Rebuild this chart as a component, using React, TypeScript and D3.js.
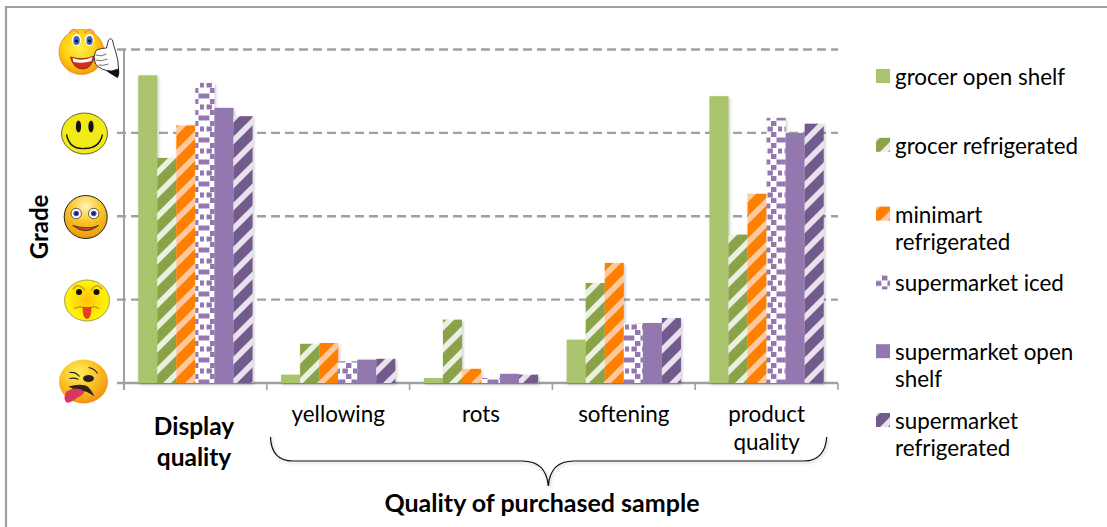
import * as React from 'react';
import * as d3 from 'd3';

// categories along the x axis, one label line per entry
const categories = ['display', 'yellowing', 'rots', 'softening', 'product'];
const categoryLines = [[], ['yellowing'], ['rots'], ['softening'], ['product', 'quality']];
const boldLines = ['Display', 'quality'];

const seriesNames = ['gOpen', 'gFridge', 'mFridge', 'sIced', 'sOpen', 'sFridge'];
const legendLines = [
    ['grocer open shelf'],
    ['grocer refrigerated'],
    ['minimart', 'refrigerated'],
    ['supermarket iced'],
    ['supermarket open', 'shelf'],
    ['supermarket', 'refrigerated'],
];

// grade, 1 = worst face, 5 = best face
const grocerOpenShelf = [4.69, 1.1, 1.06, 1.52, 4.44];
const grocerRefrigerated = [3.7, 1.47, 1.76, 2.2, 2.78];
const minimartRefrigerated = [4.09, 1.48, 1.17, 2.44, 3.27];
const supermarketIced = [4.6, 1.26, 1.06, 1.71, 4.18];
const supermarketOpenShelf = [4.3, 1.28, 1.11, 1.72, 4.0];
const supermarketRefrigerated = [4.2, 1.29, 1.1, 1.78, 4.11];
const seriesValues = [
    grocerOpenShelf,
    grocerRefrigerated,
    minimartRefrigerated,
    supermarketIced,
    supermarketOpenShelf,
    supermarketRefrigerated,
];
const seriesFills = ['#a9c46c', 'url(#hGreen)', 'url(#hOrange)', 'url(#hDots)', '#9278af', 'url(#hPurple)'];
const grades = [1, 2, 3, 4, 5];

const width = 1107;
const height = 527;
const gray = '#a0a0a0';
const font = 'Lato, "Open Sans", sans-serif';

const x = d3.scaleBand<string>().domain(categories).range([124, 838]);
const inner = d3.scaleBand<string>().domain(seriesNames).range([0, x.bandwidth()]).paddingOuter(0.75).paddingInner(0);
const y = d3.scaleLinear().domain([1, 5]).range([383, 49.5]);

const legendY = d3.scalePoint<number>().domain(d3.range(6)).range([69, 413]);

const Stripes = ({id, bg, fg}: {id: string; bg: string; fg: string}) => (
    <pattern id={id} patternUnits='userSpaceOnUse' width={22} height={22}>
        <rect width={22} height={22} fill={bg} />
        <path d='M-4,4 L4,-4 M-4,26 L26,-4 M18,26 L26,18' stroke={fg} strokeWidth={5.6} />
    </pattern>
);

// faces are drawn around their own centre, then hung on the grade scale
const FaceBest = () => (
    <g transform='translate(81.5,52)'>
        <circle r={22.5} fill='url(#fBest)' stroke='#f08a10' strokeWidth={0.8} />
        <path d='M-12,-19 Q-8,-26 -3,-19 M3,-19 Q8,-26 13,-19' fill='none' stroke='#f28c3c' strokeWidth={1.4} />
        <ellipse cx={-5} cy={-12} rx={4.6} ry={6} fill='#fff' />
        <ellipse cx={8} cy={-12} rx={4.6} ry={6} fill='#fff' />
        <ellipse cx={-5} cy={-11.5} rx={3.2} ry={4.6} fill='#3c63b5' />
        <ellipse cx={8} cy={-11.5} rx={3.2} ry={4.6} fill='#3c63b5' />
        <circle cx={-5} cy={-11} r={1.5} fill='#111' />
        <circle cx={8} cy={-11} r={1.5} fill='#111' />
        <path d='M-11,5 Q1,9 13,4 Q10,17 1,17 Q-8,17 -11,5 Z' fill='#d62b1f' stroke='#7a2a10' strokeWidth={0.9} />
        <path d='M-9,6 Q1,10 11,5 L10,9 Q1,12 -8,10 Z' fill='#fff' />
        <path d='M20,15 Q28,22 36,26 Q39,22 37,15 Q30,20 20,15 Z' fill='#111' />
        <path d='M25,-4 L27,-12 Q29,-15 31,-12 Q32,-6 34,-1 Q37,8 37,17 L30,19 Q20,19 14,12 Q11,4 15,-2 Q20,-4 25,-4 Z' fill='#fff' stroke='#222' strokeWidth={0.9} />
        <path d='M14,3 Q20,5 25,2 M14,8 Q20,10 26,7 M17,13 Q22,14 27,12' fill='none' stroke='#333' strokeWidth={0.7} />
    </g>
);

const FaceGood = () => (
    <g transform='translate(84.5,133.5)'>
        <ellipse rx={23} ry={20.5} fill='#f2ea17' stroke='#55552a' strokeWidth={0.9} />
        <ellipse cx={-6} cy={-7} rx={2.6} ry={6} fill='#111' />
        <ellipse cx={6.5} cy={-7} rx={2.6} ry={6} fill='#111' />
        <path d='M-18,1 Q-15,16 0,15 Q15,15 18,1' fill='none' stroke='#111' strokeWidth={1.3} />
    </g>
);

const FaceMiddle = () => (
    <g transform='translate(85.7,217)'>
        <circle r={21.5} fill='url(#fMid)' stroke='#222' strokeWidth={1} />
        <circle cx={-9.5} cy={-3.5} r={5.2} fill='#fff' stroke='#333' strokeWidth={0.8} />
        <circle cx={8} cy={-3.5} r={5.2} fill='#fff' stroke='#333' strokeWidth={0.8} />
        <circle cx={-9.5} cy={-3.5} r={2.8} fill='#3d4bb5' />
        <circle cx={8} cy={-3.5} r={2.8} fill='#3d4bb5' />
        <circle cx={-9.5} cy={-3.5} r={1.2} fill='#111' />
        <circle cx={8} cy={-3.5} r={1.2} fill='#111' />
        <path d='M-13,8.5 Q0,19 13,8.5 Q2,13 -13,8.5 Z' fill='#e03a1a' stroke='#332' strokeWidth={0.8} />
    </g>
);

const FaceSad = () => (
    <g transform='translate(87,300.5)'>
        <ellipse rx={22.5} ry={20.5} fill='url(#fSad)' stroke='#8c8c55' strokeWidth={0.8} />
        <path d='M-14,-11 Q-9,-19 -2,-10 M4,-10 Q10,-19 15,-11' fill='none' stroke='#cf9a3a' strokeWidth={1.6} />
        <circle cx={-8} cy={-8.5} r={3} fill='#111' />
        <circle cx={9.5} cy={-8.5} r={3} fill='#111' />
        <path d='M-13,8 Q-7,5 -3,7 M3,7 Q8,5 12,8' fill='none' stroke='#8a7a30' strokeWidth={0.9} />
        <path d='M-4,7 L4,7 Q4,18 0,18 Q-4,18 -4,7 Z' fill='#ef3b22' stroke='#a02a18' strokeWidth={0.5} />
    </g>
);

const FaceWorst = () => (
    <g transform='translate(83.5,381.5)'>
        <ellipse rx={24.5} ry={22} fill='url(#fWorst)' />
        <path d='M-14,-9 Q-8,-10 -4,-5 M-14,-3 Q-9,-4 -5,-2 M5,-14 Q11,-13 14,-8' fill='none' stroke='#222' strokeWidth={1.2} />
        <ellipse cx={5} cy={-3} rx={5.5} ry={3.5} fill='#222' />
        <path d='M-15,5 Q-5,2 2,4 Q6,5 11,15 Q3,9 -3,9 Q-8,9 -15,5 Z' fill='#2a2420' />
        <path d='M-17,10 Q-7,4 1,10 Q-1,14 -6,16 Q-13,22 -17,21 Q-21,17 -17,10 Z' fill='#d8365a' />
    </g>
);

const faces = [FaceWorst, FaceSad, FaceMiddle, FaceGood, FaceBest];

export default function App() {
    return (
        <svg width={width} height={height} style={{position: 'absolute', left: 0, top: 0, background: '#fff'}} fontFamily={font}>
            <defs>
                <Stripes id='hGreen' bg='#8aa34a' fg='#ebf0e0' />
                <Stripes id='hOrange' bg='#ff7f00' fg='#ffc99e' />
                <Stripes id='hPurple' bg='#735a8d' fg='#e8e2ee' />
                <pattern id='hDots' patternUnits='userSpaceOnUse' width={17} height={22}>
                    <rect width={17} height={22} fill='#fff' />
                    <g fill='#9477b0'>
                        <rect x={6} y={0} width={5.4} height={5} />
                        <rect x={0} y={5.5} width={5.4} height={5} />
                        <rect x={11.5} y={5.5} width={5.4} height={5} />
                        <rect x={6} y={11} width={5.4} height={5} />
                        <rect x={2.5} y={16.5} width={5.4} height={5} />
                        <rect x={13} y={16.5} width={4} height={5} />
                    </g>
                </pattern>
                <radialGradient id='fBest' cx='45%' cy='40%' r='60%'>
                    <stop offset='0' stopColor='#fff04a' />
                    <stop offset='0.6' stopColor='#fdd010' />
                    <stop offset='1' stopColor='#f49a12' />
                </radialGradient>
                <radialGradient id='fMid' cx='50%' cy='25%' r='75%'>
                    <stop offset='0' stopColor='#fff6c0' />
                    <stop offset='0.45' stopColor='#fcc82c' />
                    <stop offset='1' stopColor='#eb9a08' />
                </radialGradient>
                <radialGradient id='fSad' cx='50%' cy='50%' r='50%'>
                    <stop offset='0' stopColor='#ffc008' />
                    <stop offset='0.8' stopColor='#fff000' />
                    <stop offset='1' stopColor='#fff200' />
                </radialGradient>
                <radialGradient id='fWorst' cx='40%' cy='30%' r='75%'>
                    <stop offset='0' stopColor='#fff05a' />
                    <stop offset='0.6' stopColor='#fbb81e' />
                    <stop offset='1' stopColor='#f28a14' />
                </radialGradient>
                <filter id='soft' x='-20%' y='-20%' width='140%' height='140%'>
                    <feDropShadow dx={1} dy={1.5} stdDeviation={1.6} floodColor='#000' floodOpacity={0.25} />
                </filter>
            </defs>

            <path d={`M6,${height} V7 H${width}`} fill='none' stroke={gray} strokeWidth={2.2} />

            {/* grid */}
            {grades.map((g) => (
                <line key={g} x1={117} x2={838} y1={y(g)} y2={y(g)} stroke={gray} strokeWidth={2.4}
                    strokeDasharray={g === 1 ? undefined : '9 5'} />
            ))}
            <line x1={124} x2={124} y1={y(5)} y2={y(1) + 7} stroke={gray} strokeWidth={2} />
            {d3.range(categories.length + 1).map((i) => {
                const tx = i < categories.length ? (x(categories[i]) as number) : 838;
                return <line key={i} x1={tx} x2={tx} y1={y(1)} y2={y(1) + 7} stroke={gray} strokeWidth={1.6} />;
            })}

            {/* bars */}
            {categories.map((c, ci) => (
                <g key={c} filter='url(#soft)'>
                    {seriesNames.map((s, si) => (
                        <rect key={s}
                            x={(x(c) as number) + (inner(s) as number)}
                            width={inner.bandwidth()}
                            y={y(seriesValues[si][ci])}
                            height={y(1) - y(seriesValues[si][ci])}
                            fill={seriesFills[si]} />
                    ))}
                </g>
            ))}

            {/* faces on the grade axis */}
            {faces.map((Face, i) => <Face key={i} />)}

            {/* axis text */}
            <text transform='translate(48,227) rotate(-90)' textAnchor='middle' fontSize={24} fontWeight={700}>Grade</text>
            {boldLines.map((t, i) => (
                <text key={t} x={194} y={435 + i * 31} textAnchor='middle' fontSize={24.5} fontWeight={700}>{t}</text>
            ))}
            {categories.map((c, ci) => categoryLines[ci].map((t, i) => (
                <text key={t} x={(x(c) as number) + x.bandwidth() / 2} y={422 + i * 28} textAnchor='middle' fontSize={22.4}>{t}</text>
            )))}

            {/* brace under the purchased sample groups */}
            <path d='M270.5,437 C271,452 278,461 293,461 L522,461 C538,461 547,470 548.3,486 C549.5,470 558,461 574,461 L804,461 C818,461 826,452 826.7,437'
                fill='none' stroke='#111' strokeWidth={1.2} filter='url(#soft)' />
            <text x={542} y={512} textAnchor='middle' fontSize={25} fontWeight={700}>Quality of purchased sample</text>

            {/* legend */}
            {seriesNames.map((s, si) => {
                const ly = legendY(si) as number;
                return (
                    <g key={s} transform={`translate(876,${ly})`}>
                        <rect width={14} height={14} fill={seriesFills[si]} />
                        {legendLines[si].map((t, i) => (
                            <text key={t} x={19} y={16 + i * 27} fontSize={22.4}>{t}</text>
                        ))}
                    </g>
                );
            })}
        </svg>
    );
}
